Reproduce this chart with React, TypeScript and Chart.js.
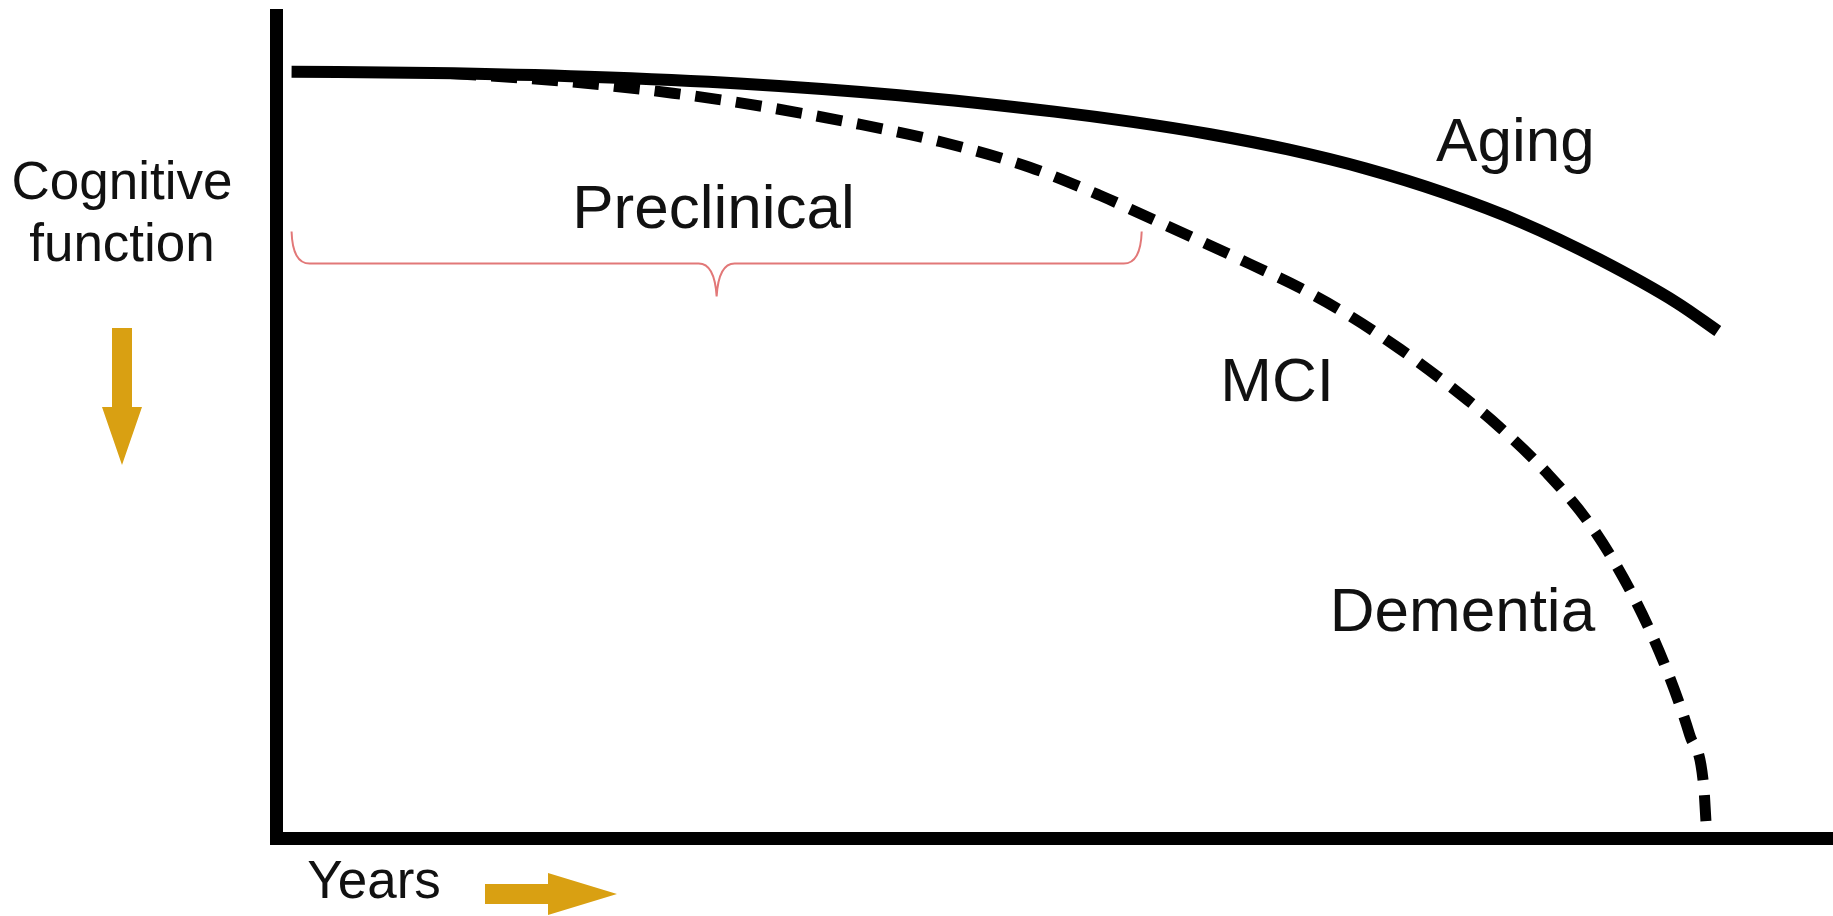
import React, { useEffect, useRef } from "react";
import { Chart, registerables } from "chart.js";

Chart.register(...registerables);

// ---- data (years 0..100, cognitive function 0..100) ----
const agingYears = [1, 10, 20, 30, 40, 50, 55, 60, 65, 70, 75, 80, 85, 90, 92.6];
const agingCognition = [93.1, 92.96, 92.51, 91.66, 90.26, 88.26, 87.01, 85.51, 83.66, 81.33, 78.4, 74.8, 70.3, 65.0, 61.6];

const dementiaYears = [11.2, 18.2, 25.5, 31.2, 37.0, 42.7, 48.4, 52.9, 55.7, 59.3, 62.6, 65.8, 69.0, 72.2, 75.4, 78.6, 81.6, 84.4, 87.0, 89.2, 90.8, 91.7, 91.9];
const dementiaCognition = [92.9, 92.0, 90.5, 88.9, 86.9, 84.6, 81.5, 78.1, 75.7, 72.6, 69.7, 66.8, 63.4, 59.4, 54.9, 49.9, 44.4, 38.1, 30.0, 21.0, 12.5, 6.2, 0];

const stageLabels = ["Aging", "MCI", "Dementia", "Preclinical"];
const stageLabelYears = [79.6, 64.3, 76.2, 28.1];
const stageLabelCognition = [82.2, 53.1, 25.2, 74.1];

const preclinicalSpan = [1.0, 55.6];
const preclinicalBraceLevels = [73.7, 69.8, 65.8]; // tips, bar, point

const yAxisTitle = ["Cognitive", "function"];
const xAxisTitle = "Years";

const FONT = "'Liberation Sans', Arial, Helvetica, sans-serif";
const GOLD = "#D9A012";

const decorPlugin = {
  id: "decor",
  afterDatasetsDraw(chart: any) {
    const { ctx, chartArea, scales } = chart;
    const xs = scales.x;
    const ys = scales.y;
    ctx.save();

    // curve / stage labels
    ctx.fillStyle = "#111";
    ctx.textAlign = "center";
    ctx.textBaseline = "alphabetic";
    ctx.font = `62px ${FONT}`;
    stageLabels.forEach((t, i) => {
      ctx.fillText(t, xs.getPixelForValue(stageLabelYears[i]), ys.getPixelForValue(stageLabelCognition[i]));
    });

    // preclinical brace
    const x0 = xs.getPixelForValue(preclinicalSpan[0]);
    const x1 = xs.getPixelForValue(preclinicalSpan[1]);
    const xm = (x0 + x1) / 2;
    const yTip = ys.getPixelForValue(preclinicalBraceLevels[0]);
    const yBar = ys.getPixelForValue(preclinicalBraceLevels[1]);
    const yPt = ys.getPixelForValue(preclinicalBraceLevels[2]);
    const r = 18;
    ctx.strokeStyle = "#E27878";
    ctx.lineWidth = 2;
    ctx.beginPath();
    ctx.moveTo(x0, yTip);
    ctx.quadraticCurveTo(x0 + 1, yBar, x0 + r, yBar);
    ctx.lineTo(xm - r, yBar);
    ctx.quadraticCurveTo(xm - 2, yBar, xm, yPt);
    ctx.quadraticCurveTo(xm + 2, yBar, xm + r, yBar);
    ctx.lineTo(x1 - r, yBar);
    ctx.quadraticCurveTo(x1 - 1, yBar, x1, yTip);
    ctx.stroke();

    // y-axis title
    const L = chartArea.left;
    const B = chartArea.bottom;
    ctx.fillStyle = "#111";
    ctx.font = `53px ${FONT}`;
    ctx.fillText(yAxisTitle[0], L - 154, 199);
    ctx.fillText(yAxisTitle[1], L - 154, 261);

    // down arrow
    ctx.fillStyle = GOLD;
    const ax = L - 154;
    ctx.beginPath();
    ctx.moveTo(ax - 10, 328);
    ctx.lineTo(ax + 10, 328);
    ctx.lineTo(ax + 10, 407);
    ctx.lineTo(ax + 20, 407);
    ctx.lineTo(ax, 465);
    ctx.lineTo(ax - 20, 407);
    ctx.lineTo(ax - 10, 407);
    ctx.closePath();
    ctx.fill();

    // x-axis title
    ctx.fillStyle = "#111";
    ctx.font = `53px ${FONT}`;
    ctx.fillText(xAxisTitle, L + 98, B + 60);

    // right arrow
    ctx.fillStyle = GOLD;
    const ay = B + 56;
    ctx.beginPath();
    ctx.moveTo(L + 209, ay - 10);
    ctx.lineTo(L + 272, ay - 10);
    ctx.lineTo(L + 272, ay - 21);
    ctx.lineTo(L + 341, ay);
    ctx.lineTo(L + 272, ay + 21);
    ctx.lineTo(L + 272, ay + 10);
    ctx.lineTo(L + 209, ay + 10);
    ctx.closePath();
    ctx.fill();

    ctx.restore();
  },
};

export default function App() {
  const ref = useRef<HTMLCanvasElement | null>(null);

  useEffect(() => {
    if (!ref.current) return;
    const chart = new Chart(ref.current, {
      type: "line",
      data: {
        datasets: [
          {
            label: "Aging",
            data: agingYears.map((x, i) => ({ x, y: agingCognition[i] })),
            borderColor: "#000",
            borderWidth: 12,
            pointRadius: 0,
            cubicInterpolationMode: "monotone",
            borderCapStyle: "butt",
            fill: false,
          },
          {
            label: "MCI / Dementia",
            data: dementiaYears.map((x, i) => ({ x, y: dementiaCognition[i] })),
            borderColor: "#000",
            borderWidth: 11,
            borderDash: [26, 15],
            pointRadius: 0,
            cubicInterpolationMode: "monotone",
            borderCapStyle: "butt",
            fill: false,
          },
        ],
      },
      options: {
        animation: false,
        responsive: false,
        devicePixelRatio: 1,
        layout: { padding: { left: 276, top: 15, right: 0, bottom: 78 } },
        plugins: { legend: { display: false }, tooltip: { enabled: false } },
        scales: {
          x: {
            type: "linear",
            min: 0,
            max: 100,
            ticks: { display: false },
            grid: { display: false, drawTicks: false },
            border: { display: true, width: 13, color: "#000" },
          },
          y: {
            type: "linear",
            min: 0,
            max: 100,
            ticks: { display: false },
            grid: { display: false, drawTicks: false },
            border: { display: true, width: 13, color: "#000" },
          },
        },
      },
      plugins: [decorPlugin],
    });
    return () => chart.destroy();
  }, []);

  return (
    <div style={{ position: "absolute", left: 0, top: 0, width: 1833, height: 916, background: "#fff" }}>
      <canvas ref={ref} width={1833} height={916} style={{ display: "block" }} />
    </div>
  );
}
